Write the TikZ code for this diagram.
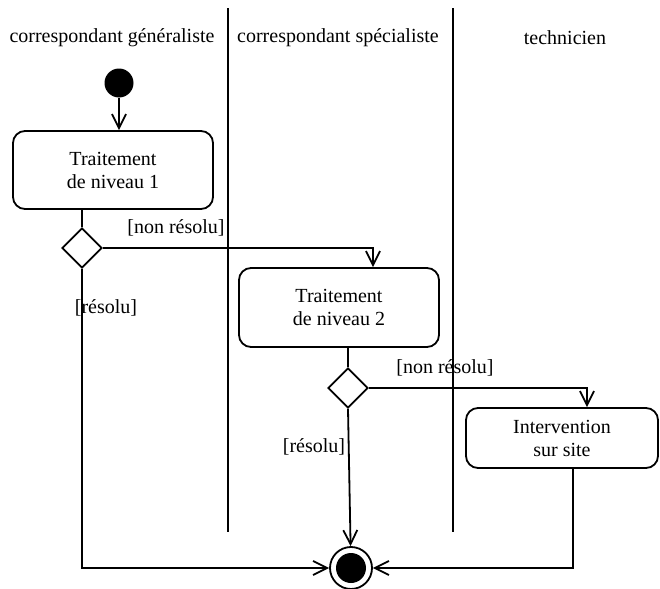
\documentclass[tikz,border=0pt]{standalone}
\usepackage{fontspec}
\setmainfont{Liberation Serif}
\usetikzlibrary{arrows.meta,positioning,shapes.geometric,calc}

\begin{document}
\begin{tikzpicture}[x=0.5pt, y=-0.5pt, line width=0.9pt,
		font=\fontsize{10}{11.5}\selectfont,
		>={Straight Barb[length=7pt,width=7pt]},
		couloir/.style={inner sep=0pt},
		activite/.style={draw, rounded corners=6pt, align=center, inner sep=0pt},
		decision/.style={draw, diamond, minimum width=20pt, minimum height=20pt, inner sep=0pt},
		garde/.style={inner sep=0pt},
		debut/.style={circle, fill=black, minimum size=14.5pt, inner sep=0pt},
		fin/.style={circle, draw, minimum size=21pt, inner sep=0pt,
				path picture={\fill[black] (path picture bounding box.center) circle (7.5pt);}}]
	\useasboundingbox (0,0) rectangle (660,589);

	% --- Couloirs ---
	\node[couloir] (c1) at (112,38) {correspondant généraliste};
	\node[couloir] (c2) at (338,38) {correspondant spécialiste};
	\node[couloir] (c3) at (565,38) {technicien};
	\draw (228,8) -- (228,532);
	\draw (453,8) -- (453,532);

	% --- Activités ---
	\node[debut] (debut) at (119,83) {};
	\node[activite, minimum width=100pt, minimum height=39pt] (trait1) at (113,170) {Traitement\\de niveau 1};
	\node[decision] (dec1) at (82,248) {};
	\node[activite, minimum width=100pt, minimum height=39.5pt] (trait2) at (339,307.5) {Traitement\\de niveau 2};
	\node[decision] (dec2) at (348,388) {};
	\node[activite, minimum width=96pt, minimum height=30pt] (interv) at (562,438) {Intervention\\sur site};
	\node[fin] (fin) at (351,568) {};

	% --- Gardes ---
	\node[garde] (g1) at (176,228) {[non résolu]};
	\node[garde] (g2) at (106,308) {[résolu]};
	\node[garde] (g3) at (445,368) {[non résolu]};
	\node[garde] (g4) at (314,447) {[résolu]};

	% --- Transitions ---
	\draw[->] (debut) -- (debut |- trait1.north);
	\draw (dec1.north |- trait1.south) -- (dec1.north);
	\draw[->] (dec1.east) -| ([xshift=17pt]trait2.north);
	\draw[->] (dec1.south) |- (fin.west);
	\draw (dec2.north |- trait2.south) -- (dec2.north);
	\draw[->] (dec2.east) -| ([xshift=12.5pt]interv.north);
	\draw[->] (dec2.south) -- (fin);
	\draw[->] ([xshift=5.5pt]interv.south) |- (fin.east);
\end{tikzpicture}
\end{document}
